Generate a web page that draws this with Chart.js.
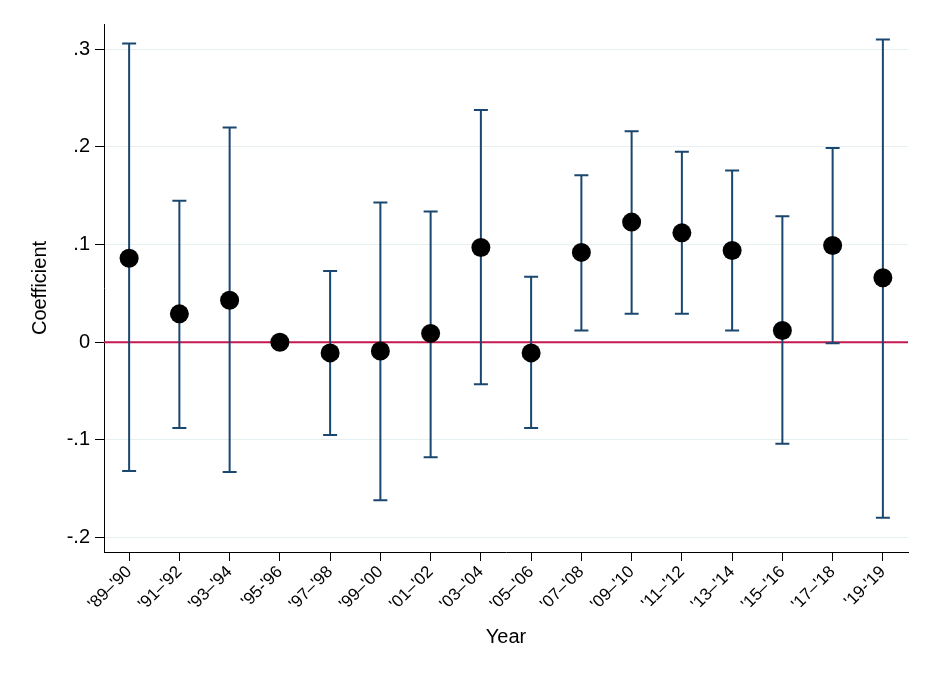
<!DOCTYPE html>
<html>
<head>
<meta charset="utf-8">
<script src="https://cdn.jsdelivr.net/npm/chart.js@4.4.1/dist/chart.umd.min.js"></script>
<style>
  html, body { margin: 0; padding: 0; background: #fff; }
  #wrap { width: 933px; height: 679px; }
</style>
</head>
<body>
<div id="wrap"><canvas id="chart"></canvas></div>
<script>
const periods = ["'89–'90", "'91–'92", "'93–'94", "'95-'96", "'97–'98", "'99–'00", "'01–'02", "'03–'04",
                 "'05–'06", "'07–'08", "'09–'10", "'11–'12", "'13–'14", "'15–'16", "'17–'18", "'19-'19"];
const coef  = [0.086, 0.029, 0.043, 0, -0.011, -0.009, 0.009, 0.097, -0.011, 0.092, 0.123, 0.112, 0.094, 0.012, 0.099, 0.066];
const lower = [-0.132, -0.088, -0.133, null, -0.095, -0.162, -0.118, -0.043, -0.088, 0.012, 0.029, 0.029, 0.012, -0.104, -0.001, -0.180];
const upper = [0.306, 0.145, 0.220, null, 0.073, 0.143, 0.134, 0.238, 0.067, 0.171, 0.216, 0.195, 0.176, 0.129, 0.199, 0.310];
const yTicks = [-0.2, -0.1, 0, 0.1, 0.2, 0.3];

// zero reference line + confidence intervals, drawn under the points
const errorBars = {
    id: 'errorBars',
    beforeDatasetsDraw(chart) {
        const ctx = chart.ctx;
        const x = chart.scales.x, y = chart.scales.y;
        const area = chart.chartArea;
        ctx.save();
        let y0 = y.getPixelForValue(0);
        ctx.strokeStyle = '#c4184f';
        ctx.lineWidth = 2;
        ctx.beginPath();
        ctx.moveTo(area.left, y0);
        ctx.lineTo(area.right, y0);
        ctx.stroke();

        ctx.strokeStyle = '#1a476f';
        ctx.lineWidth = 2;
        periods.forEach((p, i) => {
            if (lower[i] === null) return;
            let px = x.getPixelForValue(i);
            let lo = y.getPixelForValue(lower[i]);
            let hi = y.getPixelForValue(upper[i]);
            ctx.beginPath();
            ctx.moveTo(px, lo); ctx.lineTo(px, hi);
            ctx.moveTo(px - 7, lo); ctx.lineTo(px + 7, lo);
            ctx.moveTo(px - 7, hi); ctx.lineTo(px + 7, hi);
            ctx.stroke();
        });
        ctx.restore();
    }
};

const ctx = document.getElementById('chart');
new Chart(ctx, {
    type: 'line',
    data: {
        labels: periods,
        datasets: [{
            data: coef,
            showLine: false,
            pointRadius: 9.5,
            pointBackgroundColor: '#000',
            pointBorderColor: '#000',
            pointBorderWidth: 0
        }]
    },
    options: {
        responsive: true,
        maintainAspectRatio: false,
        animation: false,
        layout: { padding: { top: 24, right: 25, bottom: 20, left: 20 } },
        plugins: {
            legend: { display: false },
            tooltip: { enabled: false }
        },
        scales: {
            x: {
                type: 'category',
                offset: true,
                grid: { display: true, drawOnChartArea: false, tickLength: 9, tickColor: '#000', offset: false },
                border: { color: '#000', width: 1 },
                ticks: {
                    color: '#000',
                    font: { family: 'Liberation Sans', size: 17 },
                    minRotation: 45,
                    maxRotation: 45,
                    autoSkip: false,
                    padding: 1
                },
                title: {
                    display: true,
                    text: 'Year',
                    color: '#000',
                    font: { family: 'Liberation Sans', size: 20 },
                    padding: { top: 0, bottom: 10 }
                },
                afterFit(scale) { scale.height = 107; }
            },
            y: {
                min: -0.215,
                max: 0.326,
                afterBuildTicks(scale) { scale.ticks = yTicks.map(v => ({ value: v })); },
                grid: { color: '#e6eff1', lineWidth: 1, tickLength: 9, tickColor: '#000' },
                border: { color: '#000', width: 1 },
                ticks: {
                    color: '#000',
                    font: { family: 'Liberation Sans', size: 20 },
                    padding: 5,
                    callback(v) {
                        if (Math.abs(v) < 1e-9) return '0';
                        let s = Math.abs(v).toFixed(1).replace(/^0/, '');
                        return (v < 0 ? '-' : '') + s;
                    }
                },
                title: {
                    display: true,
                    text: 'Coefficient',
                    color: '#000',
                    font: { family: 'Liberation Sans', size: 20 },
                    padding: { top: 8, bottom: 0 }
                },
                afterFit(scale) { scale.width = 84; }
            }
        }
    },
    plugins: [errorBars]
});
</script>
</body>
</html>
